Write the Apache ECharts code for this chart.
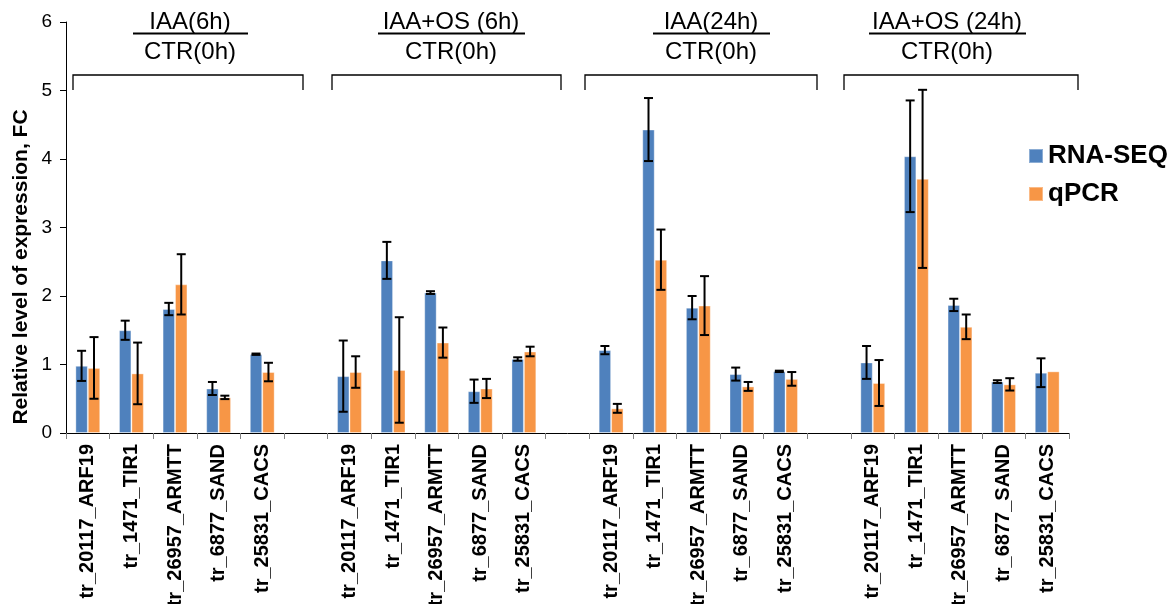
<!DOCTYPE html>
<html>
<head>
<meta charset="utf-8">
<script src="https://cdn.jsdelivr.net/npm/echarts@6/dist/echarts.min.js"></script>
<style>
  html, body { margin: 0; padding: 0; background: #ffffff; }
  #chart { width: 1175px; height: 604px; }
</style>
</head>
<body>
<div id="chart"></div>
<script>
// ---- data ----
const categories = [
  'tr_20117_ARF19', 'tr_1471_TIR1', 'tr_26957_ARMTT', 'tr_6877_SAND', 'tr_25831_CACS', '',
  'tr_20117_ARF19', 'tr_1471_TIR1', 'tr_26957_ARMTT', 'tr_6877_SAND', 'tr_25831_CACS', '',
  'tr_20117_ARF19', 'tr_1471_TIR1', 'tr_26957_ARMTT', 'tr_6877_SAND', 'tr_25831_CACS', '',
  'tr_20117_ARF19', 'tr_1471_TIR1', 'tr_26957_ARMTT', 'tr_6877_SAND', 'tr_25831_CACS'
];
const rnaSeq = [
  0.98, 1.50, 1.81, 0.65, 1.15, null,
  0.83, 2.52, 2.05, 0.61, 1.08, null,
  1.21, 4.43, 1.83, 0.86, 0.90, null,
  1.03, 4.04, 1.87, 0.75, 0.88
];
const rnaSeqErr = [
  0.22, 0.14, 0.09, 0.095, 0.01, null,
  0.52, 0.27, 0.02, 0.17, 0.025, null,
  0.06, 0.46, 0.17, 0.095, 0.01, null,
  0.24, 0.815, 0.09, 0.02, 0.21
];
const qpcr = [
  0.95, 0.87, 2.17, 0.52, 0.89, null,
  0.89, 0.92, 1.32, 0.65, 1.19, null,
  0.36, 2.53, 1.86, 0.68, 0.79, null,
  0.73, 3.71, 1.55, 0.71, 0.90
];
const qpcrErr = [
  0.45, 0.45, 0.44, 0.025, 0.135, null,
  0.23, 0.77, 0.22, 0.14, 0.07, null,
  0.065, 0.44, 0.43, 0.065, 0.10, null,
  0.335, 1.30, 0.18, 0.09, 0
];
const seriesNames = ['RNA-SEQ', 'qPCR'];
const yTicks = [0, 1, 2, 3, 4, 5, 6];
const headerTop = ['IAA(6h)', 'IAA+OS (6h)', 'IAA(24h)', 'IAA+OS (24h)'];
const headerBottom = ['CTR(0h)', 'CTR(0h)', 'CTR(0h)', 'CTR(0h)'];
const yAxisTitle = 'Relative level of expression, FC';

// ---- layout / style ----
const FONT = '"Liberation Sans", Arial, Helvetica, sans-serif';
const colors = ['#4F81BD', '#F79646'];
const BAR_FRAC = 0.285;
const headerCenters = [190, 451, 711, 947];
const underlines = [[133, 248], [378, 525], [653, 770], [869, 1026]];
const brackets = [[73, 303], [332, 561], [585, 817], [844, 1078]];

function errData(vals, errs) {
  const out = [];
  vals.forEach((v, i) => {
    if (v !== null && errs[i] !== null && errs[i] > 0) out.push([i, v, errs[i]]);
  });
  return out;
}

function makeErrRender(dir) {
  return function (params, api) {
    const idx = api.value(0), v = api.value(1), e = api.value(2);
    const band = api.size([1, 0])[0];
    const off = dir * band * BAR_FRAC / 2;
    const hi = api.coord([idx, v + e]);
    const lo = api.coord([idx, v - e]);
    const x = hi[0] + off;
    const cap = 4.5;
    const style = { stroke: '#000', lineWidth: 2 };
    return {
      type: 'group',
      children: [
        { type: 'line', shape: { x1: x, y1: hi[1], x2: x, y2: lo[1] }, style: style },
        { type: 'line', shape: { x1: x - cap, y1: hi[1], x2: x + cap, y2: hi[1] }, style: style },
        { type: 'line', shape: { x1: x - cap, y1: lo[1], x2: x + cap, y2: lo[1] }, style: style }
      ]
    };
  };
}

const graphics = [];
headerTop.forEach((t, g) => {
  graphics.push({
    type: 'text', position: [headerCenters[g], 22], z: 10,
    style: { text: t, fontSize: 24, fontFamily: FONT, fill: '#000',
             textAlign: 'center', textVerticalAlign: 'middle' }
  });
  graphics.push({
    type: 'text', position: [headerCenters[g], 52], z: 10,
    style: { text: headerBottom[g], fontSize: 24, fontFamily: FONT, fill: '#000',
             textAlign: 'center', textVerticalAlign: 'middle' }
  });
  graphics.push({
    type: 'line', z: 10,
    shape: { x1: underlines[g][0], y1: 33.5, x2: underlines[g][1], y2: 33.5 },
    style: { stroke: '#000', lineWidth: 2 }
  });
  graphics.push({
    type: 'polyline', z: 10,
    shape: { points: [[brackets[g][0], 90], [brackets[g][0], 75], [brackets[g][1], 75], [brackets[g][1], 90]] },
    style: { stroke: '#000', lineWidth: 1.3, fill: null }
  });
});
graphics.push({
  type: 'text', position: [21, 267], rotation: Math.PI / 2, z: 10,
  style: { text: yAxisTitle, fontSize: 21, fontWeight: 'bold', fontFamily: FONT, fill: '#000',
           textAlign: 'center', textVerticalAlign: 'middle' }
});

const chart = echarts.init(document.getElementById('chart'), null, { renderer: 'canvas' });
chart.setOption({
  animation: false,
  backgroundColor: '#ffffff',
  color: colors,
  textStyle: { fontFamily: FONT },
  grid: { left: 66, right: 106, top: 22, bottom: 171, containLabel: false, outerBoundsMode: 'none' },
  legend: {
    orient: 'vertical',
    left: 1028, top: 143, padding: 0,
    icon: 'rect', itemWidth: 14, itemHeight: 14, itemGap: 12,
    data: seriesNames,
    textStyle: { fontSize: 26, fontWeight: 'bold', color: '#000', fontFamily: FONT }
  },
  xAxis: {
    type: 'category',
    data: categories,
    axisLine: { lineStyle: { color: '#000', width: 1 } },
    axisTick: { show: true, interval: 0, length: 6, lineStyle: { color: '#808080' } },
    axisLabel: { interval: 0, rotate: 90, margin: 11, fontSize: 20, fontWeight: 'bold', color: '#000', fontFamily: FONT }
  },
  yAxis: {
    type: 'value',
    min: yTicks[0], max: yTicks[yTicks.length - 1], interval: 1,
    splitLine: { show: false },
    axisLine: { show: true, lineStyle: { color: '#000', width: 1 } },
    axisTick: { show: true, length: 6, lineStyle: { color: '#000' } },
    axisLabel: { fontSize: 19, color: '#000', margin: 14, fontFamily: FONT }
  },
  graphic: graphics,
  series: [
    {
      name: seriesNames[0], type: 'bar', data: rnaSeq,
      barWidth: (BAR_FRAC * 100) + '%', barGap: '0%',
      itemStyle: { color: colors[0], borderColor: 'rgba(255,255,255,0.35)', borderWidth: 1 }
    },
    {
      name: seriesNames[1], type: 'bar', data: qpcr,
      barWidth: (BAR_FRAC * 100) + '%', barGap: '0%',
      itemStyle: { color: colors[1], borderColor: 'rgba(255,255,255,0.35)', borderWidth: 1 }
    },
    {
      type: 'custom', name: 'err1', z: 5, silent: true,
      renderItem: makeErrRender(-1),
      encode: { x: 0, y: [1] },
      data: errData(rnaSeq, rnaSeqErr)
    },
    {
      type: 'custom', name: 'err2', z: 5, silent: true,
      renderItem: makeErrRender(1),
      encode: { x: 0, y: [1] },
      data: errData(qpcr, qpcrErr)
    }
  ]
});
</script>
</body>
</html>
